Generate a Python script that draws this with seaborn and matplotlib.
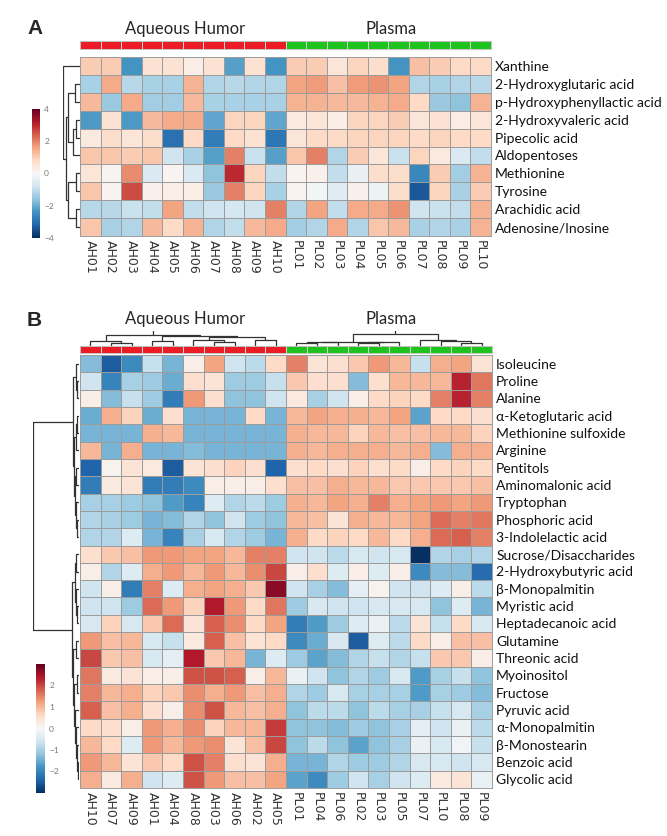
import numpy as np
import pandas as pd
import seaborn as sns
import matplotlib
matplotlib.use("Agg")
import matplotlib.pyplot as plt
from matplotlib.colors import ListedColormap

# ---------------- data: panel A ----------------
a_rows = ["Xanthine", "2-Hydroxyglutaric acid", "p-Hydroxyphenyllactic acid",
          "2-Hydroxyvaleric acid", "Pipecolic acid", "Aldopentoses", "Methionine",
          "Tyrosine", "Arachidic acid", "Adenosine/Inosine"]
a_cols = ["AH01", "AH02", "AH03", "AH04", "AH05", "AH06", "AH07", "AH08", "AH09", "AH10",
          "PL01", "PL02", "PL03", "PL04", "PL05", "PL06", "PL07", "PL08", "PL09", "PL10"]
a_xanthine = [1.0, 1.0, -2.4, 0.6, 0.6, 0.3, 0.6, -2.2, 0.6, -2.4, 1.0, 1.0, 0.5, 0.9, 0.7, -2.4, 1.2, 1.0, 0.8, 0.8]
a_hglut = [-1.3, 1.5, -1.1, -1.3, -1.3, 1.4, -1.2, -1.1, -1.2, -1.2, 1.6, 1.7, 1.2, 1.7, 1.8, 1.6, -1.2, -1.3, -1.2, -1.1]
a_hpl = [1.3, -1.5, 1.5, -1.4, -1.4, 1.3, -1.3, -1.3, -1.3, -1.3, 1.4, 1.4, 1.3, 1.3, 1.4, 1.5, 0.8, -1.5, -1.6, 1.4]
a_hval = [-2.3, 0.6, -2.3, 1.3, 1.5, 1.5, -2.1, 0.9, 0.9, -2.1, 0.4, 0.5, 0.3, 0.9, 0.9, 1.0, 0.5, 0.6, 0.3, 0.5]
a_pipec = [0.4, 0.7, 0.5, 0.7, -3.0, 0.8, -2.8, 0.8, 0.6, -2.9, 0.5, 0.8, 0.8, 0.9, 0.9, 0.9, 0.8, 0.9, 0.8, 0.8]
a_aldop = [1.1, 1.1, 1.0, 1.1, -0.8, -1.3, -2.2, 2.0, -0.9, -2.2, 1.1, 2.0, -1.2, 1.0, 0.5, -0.9, 0.9, 0.4, -0.6, -1.0]
a_methio = [0.5, 0.1, 1.9, -0.6, 0.1, -0.6, -1.6, 3.0, 0.9, -1.0, 0.1, 0.2, -1.0, -0.3, 0.7, 0.7, -2.6, 1.0, -1.4, 1.4]
a_tyros = [1.1, 0.1, 2.6, 0.2, 0.3, 0.3, -1.5, 2.0, 0.9, -1.3, 0.1, -0.1, -0.5, 0.2, -0.2, 0.7, -3.4, 0.9, -1.3, 1.0]
a_arach = [-1.1, -1.1, -0.9, -1.0, 1.6, -1.0, -0.8, -0.7, -0.8, 2.0, -1.2, 1.6, -1.0, 1.5, 1.5, 1.8, -0.8, -0.9, -1.0, 1.4]
a_adeno = [1.1, -1.3, -1.2, 1.3, 0.8, 1.4, -1.2, -1.0, 1.3, 1.5, -1.4, -1.2, 1.5, -1.2, 1.1, 1.3, -1.3, -1.2, -1.3, 1.4]
a_groups = [0] * 10 + [1] * 10
# row dendrogram of panel A: (left, right, height)
a_row_tree = (0, (((1, 2, 5), ((3, 4, 4), 5, 7), 12), ((6, 7, 4), (8, 9, 4), 12), 14), 17)

# ---------------- data: panel B ----------------
b_rows = ["Isoleucine", "Proline", "Alanine", "α-Ketoglutaric acid", "Methionine sulfoxide",
          "Arginine", "Pentitols", "Aminomalonic acid", "Tryptophan", "Phosphoric acid",
          "3-Indolelactic acid", "Sucrose/Disaccharides", "2-Hydroxybutyric acid",
          "β-Monopalmitin", "Myristic acid", "Heptadecanoic acid", "Glutamine",
          "Threonic acid", "Myoinositol", "Fructose", "Pyruvic acid", "α-Monopalmitin",
          "β-Monostearin", "Benzoic acid", "Glycolic acid"]
b_cols = ["AH10", "AH07", "AH09", "AH01", "AH04", "AH08", "AH03", "AH06", "AH02", "AH05",
          "PL01", "PL04", "PL06", "PL02", "PL03", "PL05", "PL07", "PL10", "PL08", "PL09"]
b_isoleu = [-1.3, -2.5, -1.9, -0.7, -1.4, 0.2, 1.2, -0.6, -0.8, 0.6, 1.5, 0.4, 0.5, 0.8, 1.3, 1.0, -0.7, 1.1, 1.2, 0.4]
b_prolin = [-0.6, -2.0, -1.0, -1.1, -1.5, 0.5, 0.4, -1.1, -1.1, -0.7, 0.8, 0.5, 0.5, -1.3, 0.5, 1.0, 1.0, 1.0, 2.3, 1.6]
b_alanin = [0.2, -1.3, -0.7, -1.1, -2.1, 1.3, 0.5, -1.2, -1.2, -0.6, 0.3, -1.0, -0.6, 0.2, 0.6, 0.7, 0.6, 1.5, 2.3, 1.5]
b_aketo = [-1.5, 1.1, 0.7, -1.5, 0.5, -1.4, -1.4, -1.4, 0.6, -1.4, 1.0, 1.2, 1.1, 1.1, 1.0, 1.2, -1.6, 0.6, 0.6, 0.5]
b_metsulf = [-1.4, -1.4, -1.4, 1.1, 1.0, -1.4, -1.4, -1.4, -1.4, -1.4, 1.1, 1.0, 1.0, 0.7, 1.0, 0.9, 0.9, 1.0, 1.0, 0.7]
b_argin = [1.0, -1.4, 1.1, -1.4, -1.4, -1.3, -1.4, -1.4, -1.4, -1.4, 1.1, 1.0, 1.1, 1.1, 1.1, 1.0, 1.1, -1.3, 1.1, 1.1]
b_pentit = [-2.4, 0.1, 0.4, 0.3, -2.5, 0.4, 0.5, 0.7, 0.5, -2.4, 0.5, 0.6, 0.5, 0.7, 0.5, 0.6, 0.2, 0.6, 0.7, 0.6]
b_aminom = [-2.1, 0.3, 0.4, -2.1, -2.1, -1.9, 0.2, 0.2, 0.2, 0.5, 0.9, 0.9, 1.1, 1.0, 1.0, 0.8, 0.8, 0.8, 0.8, 0.9]
b_trypto = [-1.0, -1.0, -1.1, -1.2, -1.7, -2.0, -0.4, -0.9, -0.8, -1.1, 1.1, 1.0, 1.2, 1.1, 1.5, 1.1, 1.2, 1.3, 1.2, 1.3]
b_phosph = [-0.9, -1.0, -1.1, -1.4, -1.3, -0.9, -1.2, -0.6, -1.1, -1.2, 1.0, 0.9, 0.4, 1.1, 1.0, 1.0, 1.2, 1.7, 1.5, 1.6]
b_indol = [-0.9, -0.9, -0.4, -1.4, -2.0, -1.0, -0.5, -0.9, -1.1, -1.4, 1.1, 0.6, 0.7, 0.6, 1.0, 0.6, 1.1, 1.7, 1.8, 1.5]
b_sucros = [0.5, 0.8, 0.9, 1.3, 1.3, 1.2, 1.2, 1.0, 1.5, 1.5, -0.6, -0.6, -0.8, -0.5, -0.6, -0.5, -3.0, -0.9, -1.0, -0.9]
b_hbutyr = [0.2, -0.9, -0.4, 1.1, 1.3, 1.0, 1.3, 1.0, 1.4, 2.0, 0.2, 0.5, -0.4, 0.2, -0.4, 0.2, -1.9, -1.3, -1.3, -2.3]
b_bmonop = [-0.6, 0.2, -2.1, 1.5, -0.4, 1.1, 1.2, 1.1, 0.8, 2.7, -0.6, -1.0, -1.3, -0.3, 0.1, -0.6, -0.6, -0.4, 0.2, -0.8]
b_myrist = [-0.6, -0.6, -1.1, 1.7, 1.3, 0.7, 2.4, 1.3, 0.6, 1.6, -1.1, -0.5, -0.6, -0.6, -0.5, -0.5, -0.5, -1.2, -0.4, -1.4]
b_heptad = [-0.5, 0.7, -0.5, 0.8, 1.7, 0.4, 1.8, 1.4, 0.6, 1.2, -2.1, -1.7, -1.1, -0.4, -0.2, -0.8, 0.4, -0.7, 0.6, -0.5]
b_glutam = [1.3, 0.9, 1.0, -0.5, -0.7, 0.3, 1.8, 0.9, 0.4, 0.6, -1.9, -1.5, -0.5, -2.5, -0.4, -0.8, 0.6, 0.2, 0.9, 0.9]
b_threon = [2.0, 0.8, 0.9, -0.5, -0.3, 2.4, 0.8, 1.0, -1.4, -0.4, -1.1, -1.6, -1.3, -0.9, -0.7, -0.9, -0.7, 0.8, 0.8, 0.2]
b_myoino = [1.6, 0.3, 0.4, 0.2, 0.2, 1.9, 1.9, 1.8, 0.2, 1.0, -0.2, -0.6, -1.2, -0.9, -1.1, -0.5, -1.7, -1.0, -0.7, -1.2]
b_fructo = [1.5, 1.0, 1.1, 0.7, 0.8, 1.4, 1.1, 1.3, 0.9, 1.1, -0.9, -1.1, -0.5, -1.0, -1.0, -1.0, -1.7, -1.0, -1.1, -1.3]
b_pyruv = [1.8, 0.9, 1.1, 0.5, 0.2, 1.4, 1.9, 1.0, 0.9, 1.1, -1.2, -0.8, -0.8, -1.2, -0.8, -1.0, -1.0, -0.7, -0.5, -1.0]
b_amonop = [0.6, 0.5, 0.2, 1.3, 1.1, 1.4, 0.7, 1.0, 1.0, 2.1, -1.2, -1.2, -1.3, -1.1, -1.2, -1.0, -0.3, -0.6, -0.2, -0.8]
b_bmonos = [1.0, 0.6, -0.4, 1.3, 1.0, 1.3, 1.4, 0.4, 0.9, 2.0, -1.2, -0.8, -1.2, -1.6, -1.2, -1.0, -0.2, -0.5, -0.1, -0.7]
b_benzo = [1.3, 1.0, 0.4, 0.8, 0.6, 1.9, 1.5, 0.5, 0.4, 1.1, -1.4, -1.4, -0.9, -1.1, -1.1, -0.9, -0.5, -0.5, -0.6, -0.5]
b_glycol = [1.1, 0.3, 1.1, -0.6, -0.4, 1.9, 1.3, 0.9, 0.9, 1.2, -1.6, -1.9, -1.1, -0.6, -1.0, -0.6, -0.4, 0.3, 0.4, -0.2]
b_groups = [0] * 10 + [1] * 10
# dendrograms of panel B: (left, right, height)
b_row_tree = (((0, (1, 2, 2), 3),
               (((3, 4, 2), 5, 3), ((6, 7, 3), (8, (9, 10, 2), 3), 4), 5), 6),
              (((11, 12, 3), (13, (14, 15, 2), 3), 4),
               ((16, 17, 3), ((18, 19, 2), (20, (21, (22, (23, 24, 1), 2), 3), 4), 5), 6), 7),
              46)
b_col_tree = (((0, (1, 2, 8), 15), ((3, 4, 15), ((5, (6, 7, 12), 18), (8, 9, 18), 25), 28), 32),
              ((((10, 11, 7), 12, 10), ((13, 14, 8), 15, 10), 12), (16, (17, (18, 19, 7), 13), 18), 35),
              60)

a_data = pd.DataFrame([a_xanthine, a_hglut, a_hpl, a_hval, a_pipec, a_aldop, a_methio,
                       a_tyros, a_arach, a_adeno], index=a_rows, columns=a_cols)
b_data = pd.DataFrame([b_isoleu, b_prolin, b_alanin, b_aketo, b_metsulf, b_argin, b_pentit,
                       b_aminom, b_trypto, b_phosph, b_indol, b_sucros, b_hbutyr, b_bmonop,
                       b_myrist, b_heptad, b_glutam, b_threon, b_myoino, b_fructo, b_pyruv,
                       b_amonop, b_bmonos, b_benzo, b_glycol], index=b_rows, columns=b_cols)

# ---------------- figure ----------------
sns.set_style("white")
plt.rcParams["font.family"] = ["Lato", "DejaVu Sans"]
W, H = 667, 836
fig = plt.figure(figsize=(W / 100, H / 100), dpi=100)


def px_axes(x0, y0, x1, y1):
    return fig.add_axes([x0 / W, 1 - y1 / H, (x1 - x0) / W, (y1 - y0) / H])


def tree_segments(node):
    if isinstance(node, int):
        return node + 0.5, 0, []
    l, r, h = node
    pl, hl, sl = tree_segments(l)
    pr, hr, sr = tree_segments(r)
    seg = ([pl, pl, pr, pr], [hl, h, h, hr])
    return (pl + pr) / 2, h, sl + sr + [seg]


def draw_dendro(ax, tree, orient, hmax, n):
    _, _, segs = tree_segments(tree)
    for pos, hts in segs:
        if orient == "left":
            ax.plot(hts, pos, color="#333333", lw=0.9, solid_capstyle="butt")
        else:
            ax.plot(pos, hts, color="#333333", lw=0.9, solid_capstyle="butt")
    if orient == "left":
        ax.set_xlim(hmax, 0)
        ax.set_ylim(n, 0)
    else:
        ax.set_ylim(0, hmax)
        ax.set_xlim(0, n)
    ax.axis("off")


cmap = "RdBu_r"
grp_cmap = ListedColormap(["#EC1C24", "#1EC31E"])
grid_col = "#9c9c9c"


def draw_panel(data, groups, row_tree, col_tree, hm_box, bar_box, rd_box, cd_box, cb_box,
               vmin, vmax, cticks, col_hmax):
    ax = px_axes(*hm_box)
    cax = px_axes(*cb_box)
    sns.heatmap(data, ax=ax, cmap=cmap, vmin=vmin, vmax=vmax, cbar_ax=cax,
                linewidths=0.7, linecolor=grid_col, xticklabels=True, yticklabels=True,
                cbar_kws={"ticks": cticks})
    ax.yaxis.tick_right()
    ax.tick_params(axis="both", length=0, pad=3)
    ax.set_yticklabels(data.index, rotation=0, fontsize=10, color="#111111")
    ax.set_xticklabels(data.columns, rotation=270, fontsize=9,
                       family="DejaVu Sans", color="#333333")
    ax.set_xlabel("")
    ax.set_ylabel("")
    for s in ax.spines.values():
        s.set_visible(True)
        s.set_color(grid_col)
        s.set_linewidth(0.7)
    cax.tick_params(length=0, labelsize=6, colors="#777777", pad=3)
    for s in cax.spines.values():
        s.set_visible(False)

    bax = px_axes(*bar_box)
    sns.heatmap(pd.DataFrame([groups]), ax=bax, cmap=grp_cmap, vmin=0, vmax=1, cbar=False,
                linewidths=0.6, linecolor="#d8d8d8", xticklabels=False, yticklabels=False)
    for s in bax.spines.values():
        s.set_visible(True)
        s.set_color("#bbbbbb")
        s.set_linewidth(0.6)

    rax = px_axes(*rd_box)
    draw_dendro(rax, row_tree, "left", row_tree[2], len(data.index))
    if col_tree is not None:
        dax = px_axes(*cd_box)
        draw_dendro(dax, col_tree, "top", col_hmax, len(data.columns))


draw_panel(a_data, a_groups, a_row_tree, None,
           (80, 57, 491, 236), (80, 41, 491, 49), (63, 57, 80, 236), None, (32, 109, 40, 238),
           -4, 4, [-4, -2, 0, 2, 4], None)
draw_panel(b_data, b_groups, b_row_tree, b_col_tree,
           (80, 355, 492, 788), (80, 346, 492, 352.5), (33, 355, 79, 788),
           (80, 331, 492, 345.8), (36, 664, 45, 793),
           -3, 3, [-2, -1, 0, 1, 2], 43)

# titles
for y, lab in [(29, "A"), (320, "B")]:
    fig.text(27 / W, 1 - y / H, lab, fontsize=15, fontweight="bold",
             family="Liberation Sans", ha="left", va="center")
for y in (29, 319):
    fig.text(185 / W, 1 - y / H, "Aqueous Humor", fontsize=12, ha="center", va="center")
    fig.text(391 / W, 1 - y / H, "Plasma", fontsize=12, ha="center", va="center")

fig.savefig("out.png", dpi=100)
